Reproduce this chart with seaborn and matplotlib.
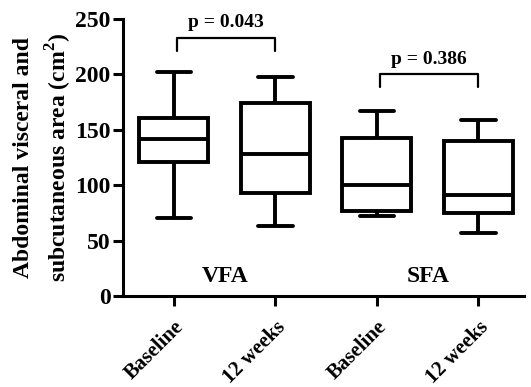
import numpy as np
import pandas as pd
import matplotlib
matplotlib.use("Agg")
import matplotlib.pyplot as plt
import seaborn as sns

# five-number summaries (min, Q1, median, Q3, max)
groups = ["VFA", "VFA", "SFA", "SFA"]
tick_labels = ["Baseline", "12 weeks", "Baseline", "12 weeks"]
vfa_baseline = [70, 121, 142, 161, 202]
vfa_12weeks = [63, 93, 128, 174, 198]
sfa_baseline = [72, 77, 100, 143, 167]
sfa_12weeks = [57, 75, 91, 140, 159]
p_values = ["p = 0.043", "p = 0.386"]

series = [vfa_baseline, vfa_12weeks, sfa_baseline, sfa_12weeks]
df = pd.DataFrame({
    "pos": np.repeat(np.arange(4), 5),
    "value": np.concatenate(series),
})

sns.set_style("ticks")
plt.rcParams["font.family"] = ["Liberation Serif", "DejaVu Serif"]
plt.rcParams["font.weight"] = "bold"
plt.rcParams["text.color"] = "black"
plt.rcParams["axes.labelcolor"] = "black"
plt.rcParams["xtick.color"] = "black"
plt.rcParams["ytick.color"] = "black"
plt.rcParams["axes.edgecolor"] = "black"
plt.rcParams["mathtext.fontset"] = "custom"
plt.rcParams["mathtext.rm"] = "Liberation Serif:bold"
plt.rcParams["mathtext.bf"] = "Liberation Serif:bold"

fig = plt.figure(figsize=(5.31, 3.87), dpi=100)
ax = fig.add_axes([0.232, 0.235, 0.755, 0.716])

lw = 2.8
sns.boxplot(data=df, x="pos", y="value", whis=(0, 100), width=0.68,
            color="white", linecolor="black", linewidth=lw, ax=ax,
            boxprops=dict(linewidth=lw, edgecolor="black", facecolor="white"),
            whiskerprops=dict(linewidth=lw, color="black"),
            capprops=dict(linewidth=lw, color="black", solid_capstyle="round"),
            medianprops=dict(linewidth=lw, color="black"))
# caps about half the box width
for cont in ax.containers:
    for cap in getattr(cont, "caps", []):
        xd = cap.get_xdata()
        c = (xd[0] + xd[1]) / 2
        cap.set_xdata([c - 0.17, c + 0.17])

ax.set_xlim(-0.5, 3.45)
ax.set_ylim(0, 250)
ax.set_yticks([0, 50, 100, 150, 200, 250])
ax.set_xticks(range(4))
ax.set_xticklabels(tick_labels, rotation=45, ha="right", rotation_mode="anchor",
                   fontsize=15, fontweight="bold")
ax.tick_params(axis="y", labelsize=17, width=2.2, length=7, direction="out", pad=2)
ax.tick_params(axis="x", width=2.2, length=7, direction="out", pad=8)
for t in ax.get_yticklabels():
    t.set_fontweight("bold")
ax.set_xlabel("")
ax.set_ylabel("Abdominal visceral and\nsubcutaneous area (cm$^2$)",
              fontsize=17, fontweight="bold", linespacing=1.4, labelpad=1)
sns.despine(ax=ax)
for s in ["left", "bottom"]:
    ax.spines[s].set_linewidth(2.2)

# group labels
ax.text(0.5, 18, groups[0], ha="center", va="center", fontsize=17, fontweight="bold")
ax.text(2.5, 18, groups[2], ha="center", va="center", fontsize=17, fontweight="bold")

# significance brackets
brackets = [(0.03, 1.0, 233, 221), (2.03, 3.0, 200, 189)]
for (x0, x1, top, bot), p in zip(brackets, p_values):
    ax.plot([x0, x0, x1, x1], [bot, top, top, bot], color="black", lw=1.6,
            clip_on=False)
    ax.text((x0 + x1) / 2, top + 6, p, ha="center", va="bottom",
            fontsize=14, fontweight="bold")

fig.savefig("out.png", dpi=100)
